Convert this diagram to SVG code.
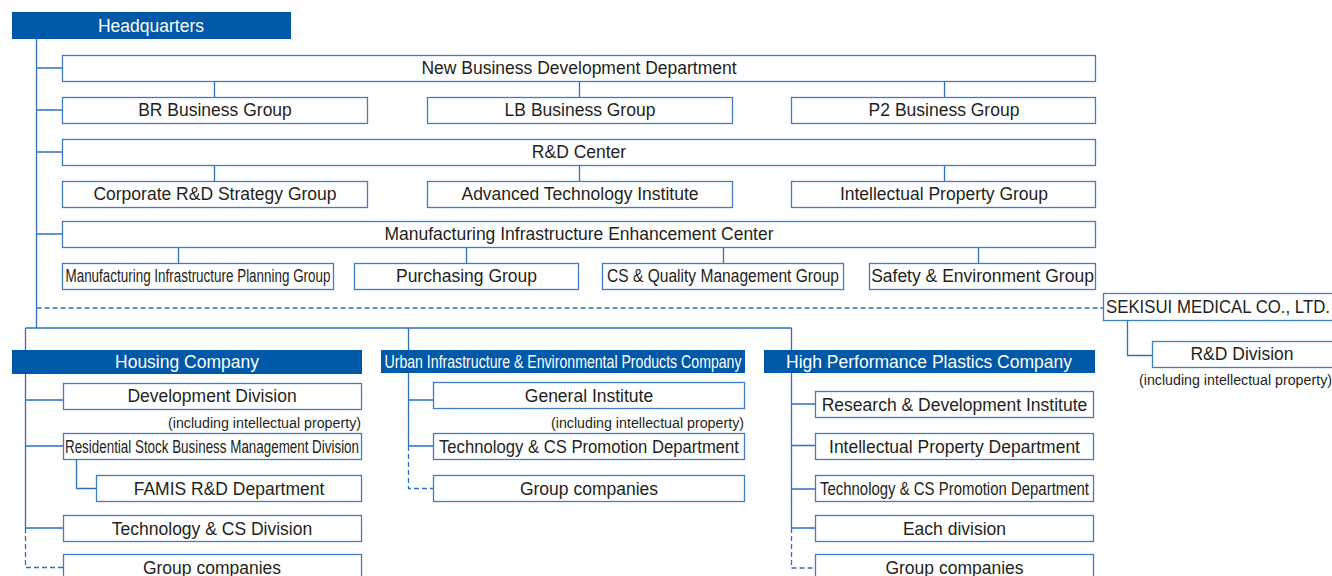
<svg xmlns="http://www.w3.org/2000/svg" width="1332" height="576" viewBox="0 0 1332 576">
<style>
.bx{fill:#fff;stroke:#3f7dc6;stroke-width:1.3}
.hd{fill:#0058a9}
.t{font-family:"Liberation Sans",Arial,sans-serif;font-size:17.5px;fill:#231f20;text-anchor:middle;dominant-baseline:central}
.w{fill:#fff}
.s{font-family:"Liberation Sans",Arial,sans-serif;font-size:14px;fill:#231f20;text-anchor:end;dominant-baseline:central}
.ln{fill:none;stroke:#2f6fbd;stroke-width:1.3}
.dl{fill:none;stroke:#2f6fbd;stroke-width:1.3;stroke-dasharray:5 3}
</style>
<g id="connectors">
<path class="ln" d="M36.5 39V328M36.5 68H62M36.5 110H62M36.5 152H62M36.5 234H62"/>
<path class="ln" d="M214.5 81V97M579.5 81V97M944.5 81V97M214.5 165V181M579.5 165V181M944.5 165V181M178.5 247V263M466.5 247V263M723.5 247V263M978.5 247V263"/>
<path class="dl" d="M36.5 308H1103"/>
<path class="ln" d="M1127.5 321V355.5H1152"/>
<path class="ln" d="M25.5 328H791.5M25.5 328V528M408.5 328V446M791.5 328V528"/>
<path class="ln" d="M25.5 400H63M25.5 446H63M76.5 460V488.5H96M25.5 528H63"/>
<path class="dl" d="M25.5 528V567.5H63"/>
<path class="ln" d="M408.5 400H433M408.5 446H433"/>
<path class="dl" d="M408.5 446V488.5H433"/>
<path class="ln" d="M791.5 404H815M791.5 445.5H815M791.5 489H815M791.5 528H815"/>
<path class="dl" d="M791.5 528V568H815"/>
</g>
<g id="hq"><rect class="hd" x="12" y="12" width="279" height="27"/><text class="t w" x="151" y="26">Headquarters</text></g>
<g id="nbd"><rect class="bx" x="62.5" y="55.5" width="1033" height="26"/><text class="t" x="579" y="68">New Business Development Department</text></g>
<g id="br"><rect class="bx" x="62.5" y="97.5" width="305" height="26"/><text class="t" x="215" y="110">BR Business Group</text></g>
<g id="lb"><rect class="bx" x="427.5" y="97.5" width="305" height="26"/><text class="t" x="580" y="110">LB Business Group</text></g>
<g id="p2"><rect class="bx" x="791.5" y="97.5" width="304" height="26"/><text class="t" x="944" y="110">P2 Business Group</text></g>
<g id="rdc"><rect class="bx" x="62.5" y="139.5" width="1033" height="26"/><text class="t" x="579" y="152">R&amp;D Center</text></g>
<g id="crd"><rect class="bx" x="62.5" y="181.5" width="305" height="26"/><text class="t" x="215" y="194">Corporate R&amp;D Strategy Group</text></g>
<g id="ati"><rect class="bx" x="427.5" y="181.5" width="305" height="26"/><text class="t" x="580" y="194">Advanced Technology Institute</text></g>
<g id="ipg"><rect class="bx" x="791.5" y="181.5" width="304" height="26"/><text class="t" x="944" y="194">Intellectual Property Group</text></g>
<g id="mie"><rect class="bx" x="62.5" y="221.5" width="1033" height="26"/><text class="t" x="579" y="234">Manufacturing Infrastructure Enhancement Center</text></g>
<g id="mip"><rect class="bx" x="62.5" y="263.5" width="271" height="26"/><text class="t" x="198" y="276" textLength="265" lengthAdjust="spacingAndGlyphs">Manufacturing Infrastructure Planning Group</text></g>
<g id="pur"><rect class="bx" x="354.5" y="263.5" width="224" height="26"/><text class="t" x="466.5" y="276">Purchasing Group</text></g>
<g id="csq"><rect class="bx" x="602.5" y="263.5" width="241" height="26"/><text class="t" x="723" y="276" textLength="232" lengthAdjust="spacingAndGlyphs">CS &amp; Quality Management Group</text></g>
<g id="saf"><rect class="bx" x="869.5" y="263.5" width="226" height="26"/><text class="t" x="982.5" y="276">Safety &amp; Environment Group</text></g>
<g id="sek"><rect class="bx" x="1103.5" y="293.5" width="240" height="27"/><text class="t" x="1218" y="307" textLength="224" lengthAdjust="spacingAndGlyphs">SEKISUI MEDICAL CO., LTD.</text></g>
<g id="srd"><rect class="bx" x="1152.5" y="341.5" width="190" height="26"/><text class="t" x="1242" y="354">R&amp;D Division</text><text class="s" x="1332" y="380" textLength="193" lengthAdjust="spacingAndGlyphs">(including intellectual property)</text></g>
<g id="hc"><rect class="hd" x="12" y="350" width="350" height="24"/><text class="t w" x="187" y="362">Housing Company</text></g>
<g id="dd"><rect class="bx" x="63.5" y="383.5" width="298" height="26"/><text class="t" x="212" y="396">Development Division</text><text class="s" x="361" y="423" textLength="193" lengthAdjust="spacingAndGlyphs">(including intellectual property)</text></g>
<g id="rsb"><rect class="bx" x="63.5" y="433.5" width="298" height="26"/><text class="t" x="212" y="446.5" textLength="294" lengthAdjust="spacingAndGlyphs">Residential Stock Business Management Division</text></g>
<g id="fam"><rect class="bx" x="96.5" y="475.5" width="265" height="26"/><text class="t" x="229" y="488.5">FAMIS R&amp;D Department</text></g>
<g id="tcs"><rect class="bx" x="63.5" y="515.5" width="298" height="26"/><text class="t" x="212" y="528.5">Technology &amp; CS Division</text></g>
<g id="hgc"><rect class="bx" x="63.5" y="554.5" width="298" height="30"/><text class="t" x="212" y="567.5">Group companies</text></g>
<g id="uc"><rect class="hd" x="381" y="350" width="364" height="23"/><text class="t w" x="563" y="362" textLength="357" lengthAdjust="spacingAndGlyphs">Urban Infrastructure &amp; Environmental Products Company</text></g>
<g id="gi"><rect class="bx" x="433.5" y="382.5" width="311" height="26"/><text class="t" x="589" y="395.5">General Institute</text><text class="s" x="744" y="423" textLength="193" lengthAdjust="spacingAndGlyphs">(including intellectual property)</text></g>
<g id="utc"><rect class="bx" x="433.5" y="433.5" width="311" height="26"/><text class="t" x="589" y="446.5" textLength="300" lengthAdjust="spacingAndGlyphs">Technology &amp; CS Promotion Department</text></g>
<g id="ugc"><rect class="bx" x="433.5" y="475.5" width="311" height="26"/><text class="t" x="589" y="488.5">Group companies</text></g>
<g id="hpp"><rect class="hd" x="764" y="350" width="331" height="23"/><text class="t w" x="929" y="362">High Performance Plastics Company</text></g>
<g id="rdi"><rect class="bx" x="815.5" y="391.5" width="278" height="26"/><text class="t" x="954.5" y="404.5">Research &amp; Development Institute</text></g>
<g id="ipd"><rect class="bx" x="815.5" y="433.5" width="278" height="26"/><text class="t" x="954.5" y="446.5">Intellectual Property Department</text></g>
<g id="htc"><rect class="bx" x="815.5" y="475.5" width="278" height="26"/><text class="t" x="954.5" y="488.5" textLength="269" lengthAdjust="spacingAndGlyphs">Technology &amp; CS Promotion Department</text></g>
<g id="ed"><rect class="bx" x="815.5" y="515.5" width="278" height="26"/><text class="t" x="954.5" y="528.5">Each division</text></g>
<g id="hgc2"><rect class="bx" x="815.5" y="554.5" width="278" height="30"/><text class="t" x="954.5" y="567.5">Group companies</text></g>
</svg>
